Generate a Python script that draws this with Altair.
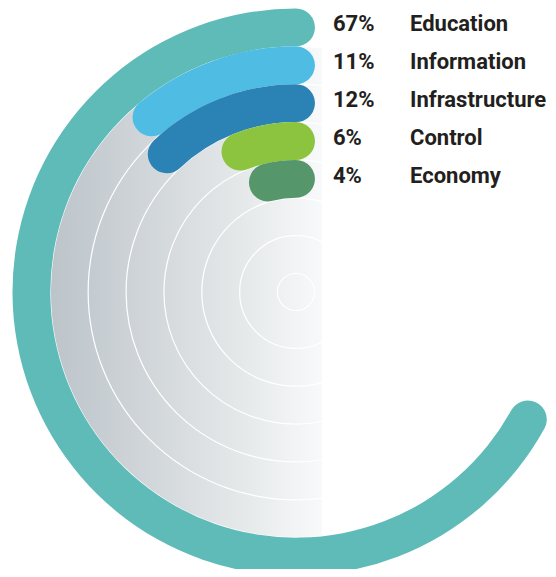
import math
import altair as alt
import pandas as pd

# ---- data ----
categories = ["Education", "Information", "Infrastructure", "Control", "Economy"]
values = [67, 11, 12, 6, 4]
colors = ["#5fbbb8", "#4fbde3", "#2a82b5", "#8cc43f", "#55976b"]
ring_index = [0, 1, 2, 3, 4]
grid_rings = [1, 2, 3, 4, 5, 6, 7]

# ---- layout constants ----
W, H = 540, 561
CX, CY = 288, 284
STEP = 37.86
R0 = 283.5
CAP = STEP / 2
FADE_END = 26          # gradient stops this far right of centre
FONT = "Roboto"
FS = 22

df = pd.DataFrame({"cat": categories, "value": values, "color": colors, "idx": ring_index})
grid = pd.DataFrame({"idx": grid_rings})

rscale = alt.Scale(type="linear", domain=[0, 7], range=[R0, R0 - 7 * STEP], zero=False)
yscale = alt.Scale(type="linear", domain=[0, 7],
                   range=[CY - (R0 - CAP) + 4, CY - (R0 - CAP) + 4 + 7 * STEP], zero=False)

gradient = alt.LinearGradient(
    gradient="linear", x1=0, x2=1, y1=0, y2=0,
    stops=[
        alt.GradientStop(color="#bcc4ca", offset=0),
        alt.GradientStop(color="#d3d8db", offset=0.4),
        alt.GradientStop(color="#e8ebec", offset=0.75),
        alt.GradientStop(color="#f8f9fa", offset=1),
    ],
)

base_grid = alt.Chart(grid).transform_filter("datum.idx == 1").transform_calculate(
    r=f"{R0} - {STEP} * datum.idx",
    t0="0",
    t1="2 * PI",
)

# gradient backdrop (rectangle spanning the disk's left part)
backdrop = base_grid.transform_calculate(
    x0=f"{CX} - datum.r", x1=f"{CX + FADE_END}",
    y0=f"{CY} - datum.r", y1=f"{CY} + datum.r",
).mark_rect(fill=gradient).encode(
    x=alt.X("x0:Q", scale=None), x2="x1:Q",
    y=alt.Y("y0:Q", scale=None), y2="y1:Q",
)

# white mask outside the disk
mask = base_grid.transform_calculate(rout="datum.r + 200").mark_arc(
    fill="white"
).encode(
    x=alt.value(CX), y=alt.value(CY),
    theta=alt.Theta("t0:Q", scale=None, stack=None), theta2="t1:Q",
    radius=alt.Radius("rout:Q", scale=None), radius2="r:Q",
)

circles = alt.Chart(grid).transform_calculate(
    t0="0", t1="2 * PI"
).mark_arc(
    fillOpacity=0, stroke="white", strokeWidth=1.2
).encode(
    x=alt.value(CX), y=alt.value(CY),
    theta=alt.Theta("t0:Q", scale=None, stack=None), theta2="t1:Q",
    radius=alt.Radius("idx:Q", scale=rscale),
)

arcs = alt.Chart(df).transform_calculate(
    idx2="datum.idx + 1",
    rmid=f"{R0} - {STEP} * (datum.idx + 0.5)",
).transform_calculate(
    pad=f"asin({CAP} / datum.rmid)",
).transform_calculate(
    t0="2 * PI * (1 - datum.value / 100) - datum.pad",
    t1="2 * PI + datum.pad",
).mark_arc(cornerRadius=CAP).encode(
    x=alt.value(CX), y=alt.value(CY),
    theta=alt.Theta("t0:Q", scale=None, stack=None),
    theta2=alt.Theta2("t1:Q"),
    radius=alt.Radius("idx:Q", scale=rscale),
    radius2=alt.Radius2("idx2:Q"),
    color=alt.Color("color:N", scale=None),
)

pct = alt.Chart(df).transform_calculate(
    label="datum.value + '%'"
).mark_text(
    align="left", baseline="alphabetic", font=FONT, fontSize=FS,
    fontWeight="bold", color="#231f20"
).encode(
    x=alt.value(325),
    y=alt.Y("idx:Q", scale=yscale, axis=None),
    text="label:N",
)

lab = alt.Chart(df).mark_text(
    align="left", baseline="alphabetic", font=FONT, fontSize=FS,
    fontWeight="bold", color="#231f20"
).encode(
    x=alt.value(402),
    y=alt.Y("idx:Q", scale=yscale, axis=None),
    text="cat:N",
)

chart = alt.layer(backdrop, mask, circles, arcs, pct, lab).properties(
    width=W, height=H, autosize="none", padding=0, background="white"
).configure_view(stroke=None)

chart.save("out.html", embed_options={"renderer": "svg", "actions": False})
